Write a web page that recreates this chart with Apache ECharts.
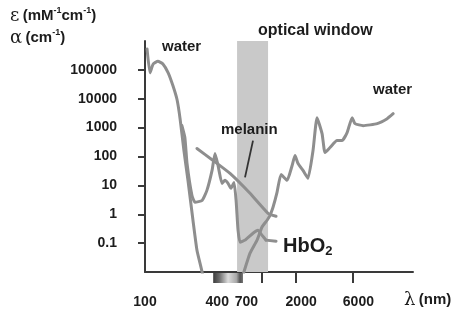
<!DOCTYPE html>
<html><head><meta charset="utf-8">
<script src="https://cdn.jsdelivr.net/npm/echarts@6/dist/echarts.min.js"></script>
<style>html,body{margin:0;padding:0;background:#fff}#c{width:466px;height:319px}</style>
</head><body><div id="c"></div>
<script>
// ---- data (wavelength nm, absorption) ----
const waterUV = [[104,5.3e5],[110,7.9e4],[117,1.6e5],[128,2.0e5],[141,1.6e5],[156,7.9e4],[171,2.8e4],[185,9.2e3],[196,2040],[211,161],[228,14.9],[251,0.62],[271,0.057],[299,0.01],[310,0.0035]];
const waterIR = [[656,0.008],[750,0.045],[858,0.127],[942,0.356],[1040,0.62],[1100,0.92],[1166,1.74],[1259,5.7],[1360,23.9],[1527,14.9],[1682,49],[1778,108],[1884,57],[2072,33],[2281,17.5],[2512,161],[2712,2213],[2987,621],[3162,137],[3481,204],[3981,355],[4385,355],[4829,672],[5317,2213],[5623,1374],[6569,1170],[8603,1374],[10417,2040],[11680,3040]];
const hbo2 = [[203,1170],[215,452],[224,57],[246,4.5],[261,2.6],[299,3.0],[328,6.7],[362,33],[383,127],[406,49],[438,11.7],[464,14.9],[492,11.7],[521,7.9],[552,12.7],[574,3.0],[596,0.28],[619,0.108],[681,0.127],[794,0.22],[873,0.28],[942,0.19],[1019,0.127]];
const melanin = [[271,189],[369,72.8],[511,25.9],[750,5.3],[1059,1.08],[1236,0.85]];
const opticalWindow = [585, 1060];
const visibleBand = [370, 655];
const xLabelValues = [100, 400, 700, 2000, 6000];
const xLabelTexts = ['100', '400', '700', '2000', '6000'];
const xTickValues = [940, 1810, 5420];
const yLabelValues = [0.1, 1, 10, 100, 1000, 10000, 100000];
const yLabelTexts = ['0.1', '1', '10', '100', '1000', '10000', '100000'];
const melaninPointer = [[794, 355], [681, 18.9]];
const hbo2Pointer = [[1019, 0.127], [1236, 0.117]];

const CURVE = '#8e8e8e';
const AXIS = '#3a3a3a';
const TXT = '#1c1c1c';
const SANS = '"Liberation Sans", Arial, sans-serif';

function lbl(values, texts) {
  return function (v) {
    let best = 0, bd = Infinity;
    values.forEach((x, i) => { const d = Math.abs(Math.log(x) - Math.log(v)); if (d < bd) { bd = d; best = i; } });
    return texts[best];
  };
}

const chart = echarts.init(document.getElementById('c'), null, { renderer: 'canvas' });
function curve(name, data, extra) {
  return Object.assign({
    name, type: 'line', data, symbol: 'none', silent: true, z: 3, smooth: 0.15,
    lineStyle: { color: CURVE, width: 3, join: 'round', cap: 'round' }
  }, extra || {});
}
chart.setOption({
  animation: false,
  grid: { left: 145, right: 53, top: 41, bottom: 47, containLabel: false, outerBoundsMode: 'none' },
  xAxis: {
    type: 'log', min: 100, max: 17100, logBase: 10,
    axisLine: { show: true, lineStyle: { color: AXIS, width: 2 } },
    axisTick: { show: true, inside: false, length: 11, customValues: xTickValues, lineStyle: { color: AXIS, width: 2 } },
    axisLabel: { show: true, customValues: xLabelValues, formatter: lbl(xLabelValues, xLabelTexts), margin: 23,
      fontFamily: SANS, fontWeight: 'bold', fontSize: 14, color: TXT },
    splitLine: { show: false }, minorTick: { show: false }
  },
  yAxis: {
    type: 'log', min: 0.01, max: 1e6, logBase: 10,
    axisLine: { show: true, lineStyle: { color: AXIS, width: 2 } },
    axisTick: { show: true, inside: false, length: 7, customValues: yLabelValues, lineStyle: { color: AXIS, width: 2 } },
    axisLabel: { show: true, customValues: yLabelValues, formatter: lbl(yLabelValues, yLabelTexts), margin: 28,
      fontFamily: SANS, fontWeight: 'bold', fontSize: 14, color: TXT },
    splitLine: { show: false }, minorTick: { show: false }
  },
  series: [
    curve('window', [], { z: 1, markArea: { silent: true, itemStyle: { color: '#c9c9c9' },
      data: [[{ xAxis: opticalWindow[0], yAxis: 0.01 }, { xAxis: opticalWindow[1], yAxis: 1e6 }]] } }),
    curve('waterUV', waterUV),
    curve('waterIR', waterIR),
    curve('melanin', melanin),
    curve('HbO2', hbo2)
  ]
});

const px = p => chart.convertToPixel({ gridIndex: 0 }, p);
const b0 = px([visibleBand[0], 0.01]), b1 = px([visibleBand[1], 0.01]);
const m0 = px(melaninPointer[0]), m1 = px(melaninPointer[1]);
const h0 = px(hbo2Pointer[0]), h1 = px(hbo2Pointer[1]);

const sup = { fontFamily: SANS, fontWeight: 'bold', fontSize: 9, lineHeight: 9, verticalAlign: 'top', fill: TXT };
chart.setOption({
  graphic: [
    { type: 'rect', z: 5, shape: { x: b0[0], y: b0[1] + 1, width: b1[0] - b0[0], height: 10 },
      style: { fill: new echarts.graphic.LinearGradient(0, 0, 1, 0, [
        { offset: 0, color: '#3c3c3c' }, { offset: 0.2, color: '#6a6a6a' }, { offset: 0.5, color: '#dcdcdc' },
        { offset: 0.78, color: '#a8a8a8' }, { offset: 0.9, color: '#555' }, { offset: 1, color: '#707070' }]) } },
    { type: 'line', z: 5, shape: { x1: m0[0], y1: m0[1], x2: m1[0], y2: m1[1] }, style: { stroke: '#333', lineWidth: 1.8 } },
    { type: 'line', z: 5, shape: { x1: h0[0], y1: h0[1], x2: h1[0], y2: h1[1] }, style: { stroke: CURVE, lineWidth: 3, lineCap: 'round' } },
    { type: 'text', z: 6, x: 10, y: 16, style: { text: '{g|ε} {b|(mM}{s|-1}{b|cm}{s|-1}{b|)}', align: 'left', verticalAlign: 'middle',
      rich: { g: { fontFamily: '"DejaVu Serif", serif', fontSize: 18, lineHeight: 20, fill: TXT },
              b: { fontFamily: SANS, fontWeight: 'bold', fontSize: 15, lineHeight: 20, fill: TXT }, s: sup } } },
    { type: 'text', z: 6, x: 10, y: 38, style: { text: '{g|α} {b|(cm}{s|-1}{b|)}', align: 'left', verticalAlign: 'middle',
      rich: { g: { fontFamily: '"DejaVu Serif", serif', fontSize: 18, lineHeight: 20, fill: TXT },
              b: { fontFamily: SANS, fontWeight: 'bold', fontSize: 15, lineHeight: 20, fill: TXT }, s: sup } } },
    { type: 'text', z: 6, x: 162, y: 47, style: { text: 'water', font: 'bold 15px ' + SANS, fill: TXT, align: 'left', verticalAlign: 'middle' } },
    { type: 'text', z: 6, x: 258, y: 31, style: { text: 'optical window', font: 'bold 16px ' + SANS, fill: TXT, align: 'left', verticalAlign: 'middle' } },
    { type: 'text', z: 6, x: 373, y: 90, style: { text: 'water', font: 'bold 15px ' + SANS, fill: TXT, align: 'left', verticalAlign: 'middle' } },
    { type: 'text', z: 6, x: 221, y: 130, style: { text: 'melanin', font: 'bold 15px ' + SANS, fill: TXT, align: 'left', verticalAlign: 'middle' } },
    { type: 'text', z: 6, x: 283, y: 246, style: { text: '{b|HbO}{sub|2}', align: 'left', verticalAlign: 'middle',
      rich: { b: { fontFamily: SANS, fontWeight: 'bold', fontSize: 20, lineHeight: 24, fill: TXT },
              sub: { fontFamily: SANS, fontWeight: 'bold', fontSize: 13, lineHeight: 13, verticalAlign: 'bottom', fill: TXT } } } },
    { type: 'text', z: 6, x: 404, y: 300, style: { text: '{g|λ} {b|(nm)}', align: 'left', verticalAlign: 'middle',
      rich: { g: { fontFamily: '"DejaVu Serif", serif', fontSize: 18, lineHeight: 20, fill: TXT },
              b: { fontFamily: SANS, fontWeight: 'bold', fontSize: 15, lineHeight: 20, fill: TXT } } } }
  ]
});
</script>
</body></html>
